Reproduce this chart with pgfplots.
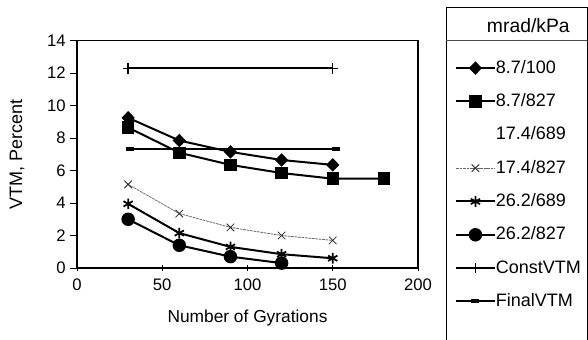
\documentclass[border=0pt]{standalone}
\usepackage{fontspec}
\setmainfont{Liberation Sans}
\usepackage{pgfplots}
\pgfplotsset{compat=1.18}
\pgfplotsset{ll/.style={legend image code/.code={\draw[mark repeat=2,mark phase=2,##1] plot coordinates {(0pt,0pt) (14.5pt,0pt) (29pt,0pt)};}}}
\begin{document}
\begin{tikzpicture}
\begin{axis}[
  at={(0,0)}, anchor=south west,
  scale only axis, width=255.75pt, height=170.5pt,
  xmin=0, xmax=200, ymin=0, ymax=14,
  xtick={0,50,...,200}, ytick={0,2,...,14},
  xtick pos=bottom, ytick pos=left,
  x tick style={black, line width=0.6pt}, y tick style={black, line width=0.6pt},
  xtick align=center, ytick align=outside,
  major tick length=5pt,
  axis line style={black, line width=0.8pt},
  /pgf/number format/assume math mode=true,
  tick label style={font=\fontsize{12.5}{14}\selectfont},
  xticklabel style={yshift=-2pt},
  xlabel={Number of Gyrations}, ylabel={VTM, Percent},
  every axis x label/.style={at={(axis description cs:0.5,0)}, yshift=-37.5pt, anchor=center, font=\fontsize{13}{15}\selectfont},
  every axis y label/.style={at={(axis description cs:0,0.5)}, xshift=-45pt, rotate=90, anchor=center, font=\fontsize{13.5}{15}\selectfont},
  legend style={at={(1.108,0.92)}, anchor=north west, draw=none, fill=none, inner sep=0pt,
    font=\fontsize{13.5}{16}\selectfont, row sep=11.5pt,
    nodes={text height=10.5pt, text depth=3pt, inner sep=0pt}},
  legend cell align=left,
  clip=false,
]
\addplot[ll, black, line width=1.5pt, mark=diamond*, mark size=4pt, mark options={solid, xscale=1.3}]
  coordinates {(30,9.25) (60,7.85) (90,7.15) (120,6.65) (150,6.35)};
\addlegendentry{8.7/100}
\addplot[ll, black, line width=1.5pt, mark=square*, mark size=3.9pt, mark options={solid}]
  coordinates {(30,8.65) (60,7.1) (90,6.35) (120,5.85) (150,5.5) (180,5.5)};
\addlegendentry{8.7/827}
\addlegendimage{empty legend}
\addlegendentry{17.4/689}
\addplot[ll, black!60, line width=0.6pt, dash pattern=on 2pt off 0.6pt, mark=x, mark size=4pt, mark options={solid, black!85, line width=0.6pt}]
  coordinates {(30,5.15) (60,3.35) (90,2.5) (120,2.0) (150,1.7)};
\addlegendentry{17.4/827}
\addplot[ll, black, line width=1.5pt, mark=asterisk, mark size=4pt, mark options={solid, line width=1.3pt}]
  coordinates {(30,3.95) (60,2.15) (90,1.3) (120,0.85) (150,0.6)};
\addlegendentry{26.2/689}
\addplot[ll, black, line width=1.5pt, mark=*, mark size=4.3pt, mark options={solid}]
  coordinates {(30,3.0) (60,1.4) (90,0.7) (120,0.3)};
\addlegendentry{26.2/827}
\addplot[ll, black, line width=1.4pt, mark=+, mark size=4pt, mark options={solid, line width=1pt}]
  coordinates {(30,12.3) (150,12.3)};
\addlegendentry{ConstVTM}
\addplot[ll, black, line width=1.5pt, mark=-, mark size=3pt, mark options={solid, line width=3pt}]
  coordinates {(31,7.3) (152,7.3)};
\addlegendentry{FinalVTM}
\end{axis}
\draw[black, line width=0.6pt] (276.75pt,-60pt) -- (276.75pt,195.75pt) -- (382.5pt,195.75pt) -- (382.5pt,-60pt);
\draw[black!70, line width=0.5pt] (276.75pt,171pt) -- (382.5pt,171pt);
\node[font=\fontsize{14.5}{16}\selectfont, anchor=center] at (338.5pt,181.5pt) {mrad/kPa};
\pgfresetboundingbox
\path[use as bounding box] (-57.75pt,-53.25pt) rectangle (383.25pt,201pt);
\end{tikzpicture}
\end{document}
